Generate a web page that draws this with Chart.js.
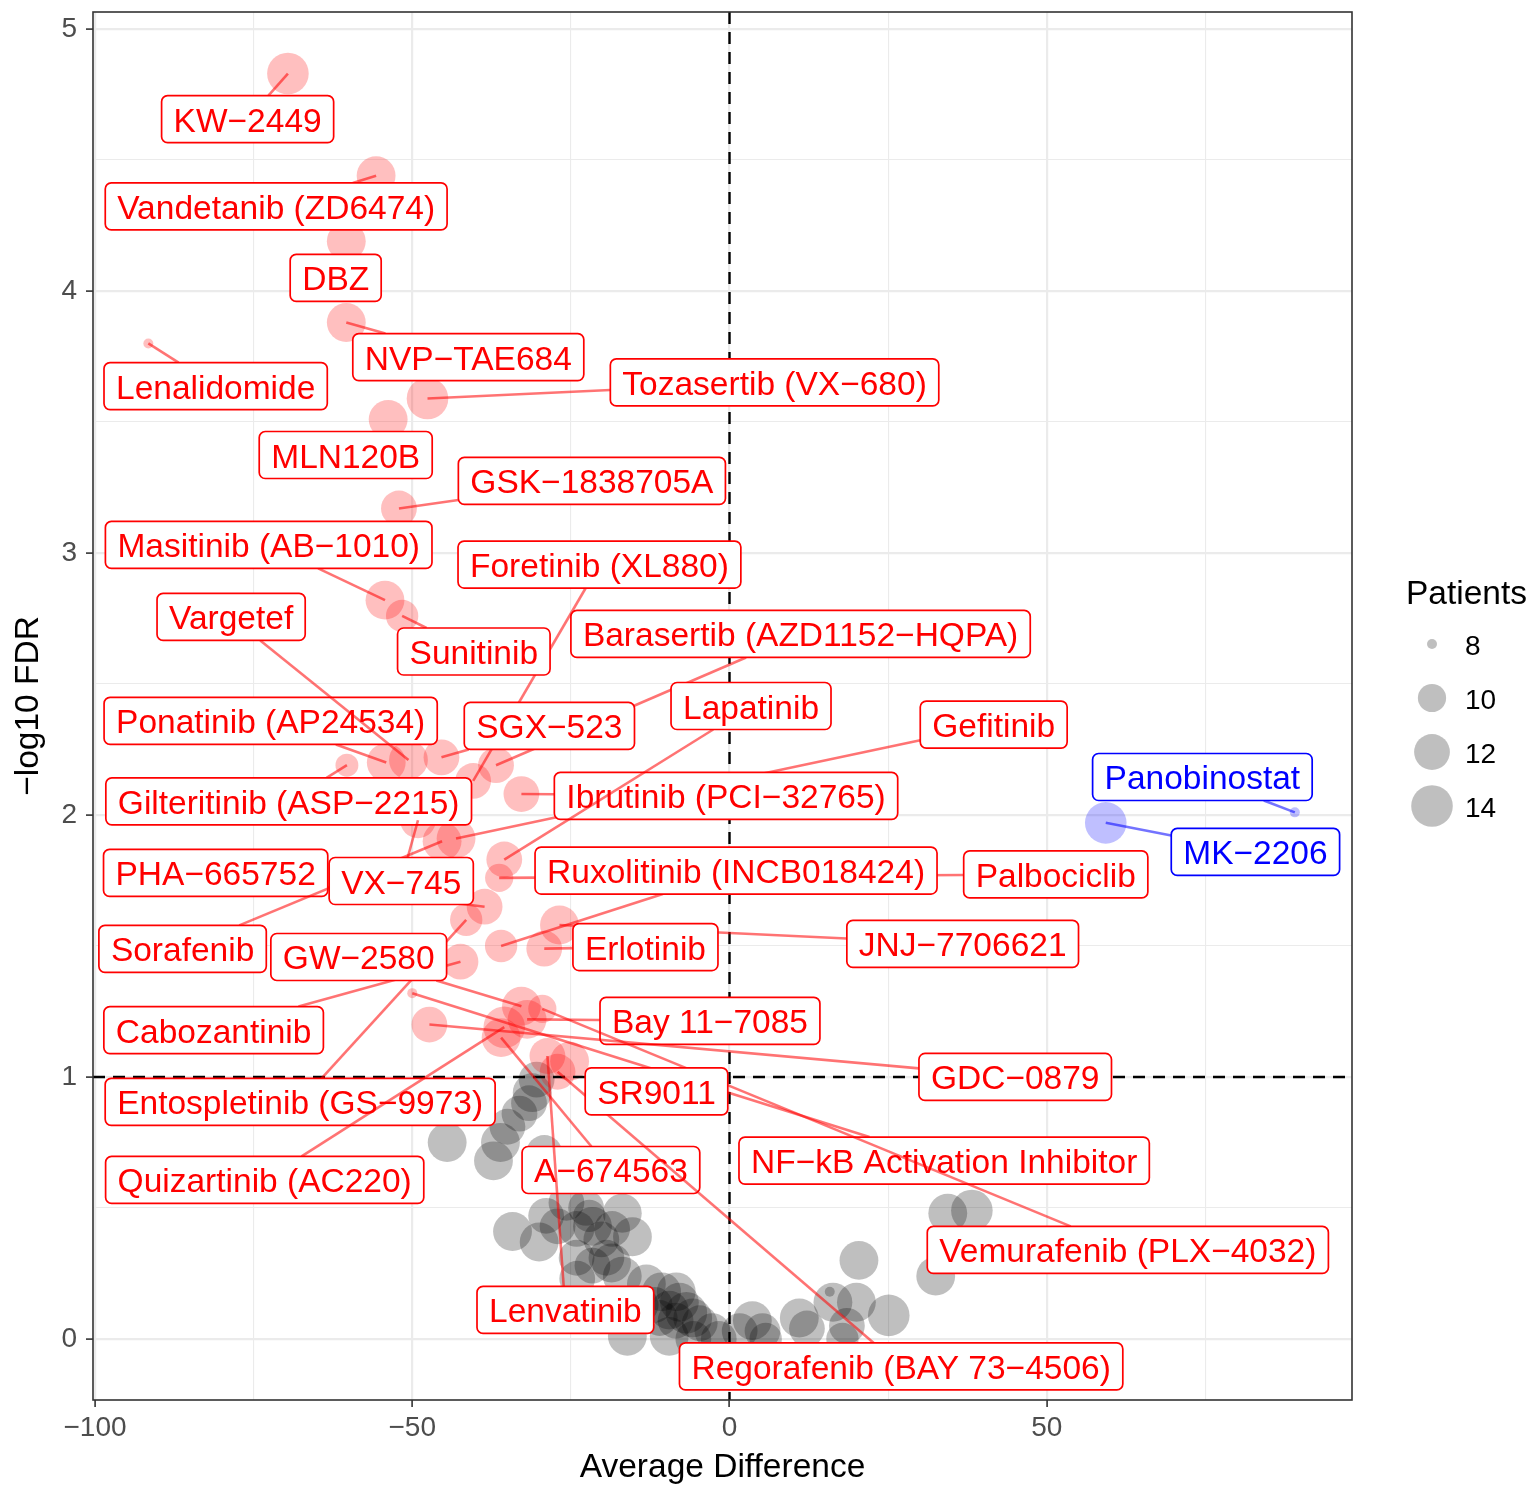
<!DOCTYPE html>
<html lang="en">
  <head>
    <meta charset="UTF-8" />
    <title>Drug sensitivity volcano plot</title>
    <style>
      body {
        margin: 0;
        background: #fff;
      }
      #wrap {
        width: 1531px;
        height: 1485px;
      }
    </style>
    <script src="https://cdn.jsdelivr.net/npm/chart.js"></script>
  </head>
  <body>
    <div id="wrap"><canvas id="volcano" width="1531" height="1485"></canvas></div>

    <script>
      // Labelled drugs (drawn in this order, later labels sit on top)
      const hitNames = [
        'KW−2449', 'Vandetanib (ZD6474)', 'DBZ', 'NVP−TAE684', 'Lenalidomide',
        'Tozasertib (VX−680)', 'MLN120B', 'GSK−1838705A', 'Masitinib (AB−1010)',
        'Foretinib (XL880)', 'Sunitinib', 'Barasertib (AZD1152−HQPA)',
        'Ponatinib (AP24534)', 'Vargetef', 'SGX−523', 'Gefitinib',
        'Ibrutinib (PCI−32765)', 'Lapatinib', 'Gilteritinib (ASP−2215)',
        'PHA−665752', 'Sorafenib', 'VX−745', 'Palbociclib',
        'Ruxolitinib (INCB018424)', 'Entospletinib (GS−9973)', 'Cabozantinib',
        'GW−2580', 'JNJ−7706621', 'Erlotinib', 'Bay 11−7085', 'GDC−0879',
        'NF−kB Activation Inhibitor', 'Vemurafenib (PLX−4032)', 'A−674563',
        'Regorafenib (BAY 73−4506)', 'Lenvatinib', 'SR9011',
        'Quizartinib (AC220)', 'Panobinostat', 'MK−2206',
      ];
      const hitDiff = [
        -69.6, -55.7, -60.4, -60.4, -91.6, -47.6, -53.8, -52.1, -54.3, -40.4,
        -51.6, -36.8, -54.1, -50.6, -45.4, -43.1, -32.8, -35.5, -60.3, -38.6,
        -45.3, -49.1, -36.3, -36.0, -41.5, -42.4, -32.8, -26.8, -29.2, -31.9,
        -47.3, -50.0, -29.5, -36.0, -27.1, -28.7, -25.2, -35.5, 89.1, 59.3,
      ];
      const hitLogFdr = [
        4.83, 4.44, 4.19, 3.88, 3.80, 3.59, 3.51, 3.17, 2.82, 2.13,
        2.76, 2.19, 2.20, 2.21, 2.22, 1.91, 2.08, 1.83, 2.19, 1.65,
        1.90, 1.98, 1.76, 1.50, 1.60, 1.44, 1.27, 1.58, 1.49, 1.22,
        1.20, 1.32, 1.26, 1.15, 1.02, 1.08, 1.06, 1.19, 2.01, 1.97,
      ];
      const hitPatients = [
        14, 13, 13, 13, 8, 14, 13, 12, 13, 12,
        11, 12, 13, 13, 12, 13, 12, 12, 9, 12,
        13, 12, 10, 11, 11, 12, 13, 13, 12, 13,
        12, 8, 10, 13, 12, 12, 13, 14, 8, 14,
      ];

      // Where each label box is centred, in axis units
      const labelAt = [
        [-75.95, 4.656], [-71.45, 4.323], [-62.07, 4.05], [-41.17, 3.748],
        [-80.99, 3.637], [7.1, 3.651], [-60.49, 3.374], [-21.69, 3.275],
        [-72.63, 3.031], [-20.5, 2.956], [-40.3, 2.624], [11.2, 2.691],
        [-72.32, 2.359], [-78.55, 2.756], [-28.39, 2.34], [41.64, 2.345],
        [-0.55, 2.073], [3.39, 2.416], [-69.48, 2.052], [-80.99, 1.779],
        [-86.2, 1.489], [-51.74, 1.748], [51.42, 1.773], [1.03, 1.788],
        [-67.67, 0.905], [-81.31, 1.179], [-58.44, 1.458], [36.75, 1.508],
        [-13.25, 1.496], [-3.08, 1.214], [45.03, 1.0], [33.83, 0.681],
        [62.78, 0.34], [-18.69, 0.645], [27.05, -0.105], [-25.87, 0.111],
        [-11.51, 0.945], [-73.26, 0.607], [74.53, 2.145], [82.89, 1.859],
      ];

      // Remaining drugs (not significant)
      const otherDiff = [
        -30.4, -31.1, -31.6, -33.1, -35.0, -36.1, -37.2, -44.5, -29.2,
        -34.2, -30.0, -28.9, -25.7, -22.6, -21.6, -20.2, -16.9, -15.3, -24.1,
        -27.1, -19.4, -24.1, -21.6, -18.6, -22.1, -18.5,
        -24.0, -16.9, -13.1, -10.7, -8.4, -7.9, -6.8, -9.5, -11.0, -5.8,
        -4.7, -2.7, -16.1, -9.5, -11.8, -14.0, -16.4, -8.5, -5.7, -1.7,
        3.6, 5.2, 1.6, 5.7, 11.0, 16.3, 20.0, 15.8, 18.5, 17.8,
        25.1, 20.4, 34.4, 38.2, 32.5, 12.2,
      ];
      const otherLogFdr = [
        0.99, 0.94, 0.9, 0.86, 0.81, 0.75, 0.68, 0.75, 0.71,
        0.41, 0.37, 0.47, 0.52, 0.5, 0.43, 0.38, 0.48, 0.39, 0.42,
        0.43, 0.31, 0.31, 0.28, 0.29, 0.47, 0.42,
        0.23, 0.24, 0.21, 0.18, 0.18, 0.14, 0.1, 0.11, 0.08, 0.08,
        0.06, 0.03, 0.01, 0.01, 0.13, 0.13, 0.13, 0.07, 0.0, 0.0,
        0.07, 0.03, 0.03, 0.0, 0.08, 0.14, 0.14, 0.18, 0.05, 0.0,
        0.09, 0.3, 0.48, 0.49, 0.24, 0.04,
      ];
      const otherPatients = [
        12, 13, 12, 12, 12, 13, 13, 13, 12,
        13, 13, 12, 12, 12, 13, 12, 13, 13, 12,
        12, 12, 12, 12, 13, 11, 12,
        12, 13, 13, 13, 13, 13, 14, 13, 12, 13,
        12, 12, 13, 13, 12, 12, 12, 12, 12, 12,
        13, 12, 12, 11, 13, 13, 13, 8, 12, 11,
        14, 13, 13, 14, 13, 12,
      ];

      const legendPatients = [8, 10, 12, 14];
      const xTicks = [-100, -75, -50, -25, 0, 25, 50, 75];
      const yTicks = [0, 0.5, 1, 1.5, 2, 2.5, 3, 3.5, 4, 4.5, 5];
      const fdrCut = 1;

      // Point radius (px) for a patient count, area scaled
      const sizeOf = (p) => 5 + 15.8 * Math.sqrt(Math.max(p - 8, 0) / 6);

      const FONT = '"Liberation Sans", Arial, Helvetica, sans-serif';
      const LABEL_FONT = '33.5px ' + FONT;
      const LABEL_PAD = 12;
      const LABEL_H = 47;

      const hitPoint = (i) => ({ x: hitDiff[i], y: hitLogFdr[i], p: hitPatients[i] });
      const hitIdx = hitNames.map((_, i) => i);
      const downData = hitIdx.filter((i) => hitDiff[i] < 0).map(hitPoint);
      const upData = hitIdx.filter((i) => hitDiff[i] > 0).map(hitPoint);
      const otherData = otherDiff.map((d, i) => ({ x: d, y: otherLogFdr[i], p: otherPatients[i] }));

      const minus = (v) => (v < 0 ? '\u2212' + Math.abs(v) : String(v));

      // Box around a label centred at (cx, cy)
      function labelBox(ctx, name, cx, cy) {
        const w = ctx.measureText(name).width + 2 * LABEL_PAD;
        return { l: cx - w / 2, t: cy - LABEL_H / 2, w: w, h: LABEL_H };
      }

      // Where the line from the point towards the label centre meets the box
      function segmentEnd(px, py, b, cx, cy) {
        const dx = cx - px;
        const dy = cy - py;
        let t = 0;
        if (px < b.l) t = Math.max(t, (b.l - px) / dx);
        else if (px > b.l + b.w) t = Math.max(t, (b.l + b.w - px) / dx);
        if (py < b.t) t = Math.max(t, (b.t - py) / dy);
        else if (py > b.t + b.h) t = Math.max(t, (b.t + b.h - py) / dy);
        return { x: px + t * dx, y: py + t * dy, len: t * Math.hypot(dx, dy) };
      }

      const repelLabels = {
        id: 'repelLabels',
        afterDatasetsDraw(chart) {
          const { ctx, chartArea: a, scales } = chart;
          const xs = scales.x;
          const ys = scales.y;

          // threshold lines
          ctx.save();
          ctx.beginPath();
          ctx.rect(a.left, a.top, a.right - a.left, a.bottom - a.top);
          ctx.clip();
          ctx.strokeStyle = '#000';
          ctx.lineWidth = 2.4;
          ctx.setLineDash([12, 8]);
          ctx.beginPath();
          const x0 = xs.getPixelForValue(0);
          const y1 = ys.getPixelForValue(fdrCut);
          ctx.moveTo(x0, a.top);
          ctx.lineTo(x0, a.bottom);
          ctx.moveTo(a.left, y1);
          ctx.lineTo(a.right, y1);
          ctx.stroke();
          ctx.restore();

          // labels with their leader segments
          ctx.save();
          ctx.font = LABEL_FONT;
          hitNames.forEach((name, i) => {
            const rgb = hitDiff[i] < 0 ? '255,0,0' : '0,0,255';
            const px = xs.getPixelForValue(hitDiff[i]);
            const py = ys.getPixelForValue(hitLogFdr[i]);
            const cx = xs.getPixelForValue(labelAt[i][0]);
            const cy = ys.getPixelForValue(labelAt[i][1]);
            const b = labelBox(ctx, name, cx, cy);
            const end = segmentEnd(px, py, b, cx, cy);

            if (end.len > 21) {
              ctx.strokeStyle = 'rgba(' + rgb + ',0.55)';
              ctx.lineWidth = 2.6;
              ctx.beginPath();
              ctx.moveTo(px, py);
              ctx.lineTo(end.x, end.y);
              ctx.stroke();
            }

            ctx.beginPath();
            ctx.roundRect(b.l, b.t, b.w, b.h, 6);
            ctx.fillStyle = '#fff';
            ctx.fill();
            ctx.strokeStyle = 'rgb(' + rgb + ')';
            ctx.lineWidth = 1.7;
            ctx.stroke();

            ctx.fillStyle = 'rgb(' + rgb + ')';
            ctx.textAlign = 'center';
            ctx.textBaseline = 'alphabetic';
            ctx.fillText(name, cx, b.t + 36);
          });
          ctx.restore();
        },
        afterDraw(chart) {
          const { ctx, chartArea: a } = chart;
          ctx.save();

          // panel border
          ctx.strokeStyle = '#333';
          ctx.lineWidth = 1.6;
          ctx.strokeRect(a.left, a.top, a.right - a.left, a.bottom - a.top);

          // axis titles
          ctx.fillStyle = '#000';
          ctx.font = '33.5px ' + FONT;
          ctx.textAlign = 'center';
          ctx.textBaseline = 'alphabetic';
          ctx.fillText('Average Difference', (a.left + a.right) / 2, a.bottom + 77);
          ctx.save();
          ctx.translate(38, (a.top + a.bottom) / 2);
          ctx.rotate(-Math.PI / 2);
          ctx.fillText('\u2212log10 FDR', 0, 0);
          ctx.restore();

          // size legend
          const lx = a.right + 80;
          ctx.textAlign = 'left';
          ctx.fillText('Patients', a.right + 54, 604);
          ctx.font = '28px ' + FONT;
          legendPatients.forEach((p, k) => {
            const ky = 644 + 54 * k;
            ctx.fillStyle = 'rgba(0,0,0,0.25)';
            ctx.beginPath();
            ctx.arc(lx, ky, sizeOf(p), 0, Math.PI * 2);
            ctx.fill();
            ctx.fillStyle = '#000';
            ctx.fillText(String(p), a.right + 113, ky + 10.5);
          });
          ctx.restore();
        },
      };

      const pointStyle = (fill, order) => ({
        backgroundColor: fill,
        borderWidth: 0,
        pointRadius: (c) => sizeOf(c.raw.p),
        pointHoverRadius: (c) => sizeOf(c.raw.p),
        order: order,
      });

      const tickFont = { family: FONT, size: 28 };

      // keep the panel exactly where the layout padding puts it
      const noScalePadding = (s) => {
        s.paddingTop = 0;
        s.paddingBottom = 0;
        s.paddingLeft = 0;
        s.paddingRight = 0;
      };

      new Chart(document.getElementById('volcano'), {
        type: 'scatter',
        data: {
          datasets: [
            Object.assign({ label: 'Other', data: otherData }, pointStyle('rgba(0,0,0,0.25)', 3)),
            Object.assign({ label: 'Lower', data: downData }, pointStyle('rgba(255,0,0,0.25)', 2)),
            Object.assign({ label: 'Higher', data: upData }, pointStyle('rgba(0,0,255,0.25)', 1)),
          ],
        },
        options: {
          responsive: false,
          animation: false,
          devicePixelRatio: 1,
          layout: {
            autoPadding: false,
            padding: { left: 0, right: 179, top: 12, bottom: 0 },
          },
          plugins: {
            legend: { display: false },
            tooltip: { enabled: false },
          },
          scales: {
            x: {
              type: 'linear',
              min: -100.32,
              max: 98.11,
              afterBuildTicks: (s) => {
                s.ticks = xTicks.map((v) => ({ value: v }));
              },
              afterFit: (s) => {
                s.height = 85;
                noScalePadding(s);
              },
              border: { display: false },
              grid: {
                color: '#ebebeb',
                lineWidth: (c) => (c.tick && c.tick.value % 50 === 0 ? 2.2 : 1.1),
                tickColor: (c) => (c.tick && c.tick.value % 50 === 0 ? '#333' : 'rgba(0,0,0,0)'),
                tickLength: 7,
                tickWidth: 1.6,
              },
              ticks: {
                autoSkip: false,
                maxRotation: 0,
                padding: 4,
                color: '#4d4d4d',
                font: tickFont,
                callback: (v) => (v % 50 === 0 ? minus(v) : ''),
              },
            },
            y: {
              type: 'linear',
              min: -0.233,
              max: 5.065,
              afterBuildTicks: (s) => {
                s.ticks = yTicks.map((v) => ({ value: v }));
              },
              afterFit: (s) => {
                s.width = 93;
                noScalePadding(s);
              },
              border: { display: false },
              grid: {
                color: '#ebebeb',
                lineWidth: (c) => (c.tick && Number.isInteger(c.tick.value) ? 2.2 : 1.1),
                tickColor: (c) => (c.tick && Number.isInteger(c.tick.value) ? '#333' : 'rgba(0,0,0,0)'),
                tickLength: 7,
                tickWidth: 1.6,
              },
              ticks: {
                autoSkip: false,
                padding: 9,
                color: '#4d4d4d',
                font: tickFont,
                callback: (v) => (Number.isInteger(v) ? minus(v) : ''),
              },
            },
          },
        },
        plugins: [repelLabels],
      });
    </script>
  </body>
</html>
